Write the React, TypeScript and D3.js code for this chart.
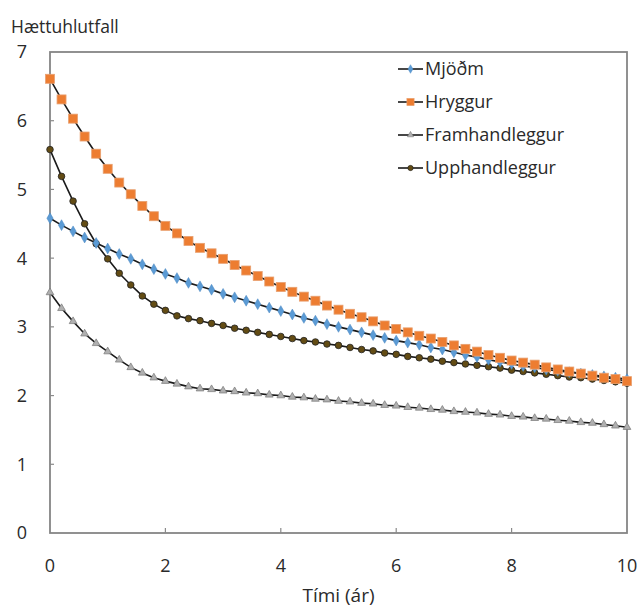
import React, { useRef, useEffect } from "react";
import * as d3 from "d3";

// time in years, one point every 0.2
const years = d3.range(0, 51).map((i) => +(i * 0.2).toFixed(1));

const mjodm = [
  4.58, 4.48, 4.39, 4.3, 4.22, 4.14, 4.06, 3.99, 3.91, 3.84, 3.77, 3.71, 3.64,
  3.59, 3.54, 3.48, 3.43, 3.38, 3.33, 3.28, 3.23, 3.18, 3.13, 3.09, 3.04, 3.0,
  2.96, 2.92, 2.88, 2.84, 2.8, 2.77, 2.74, 2.7, 2.67, 2.63, 2.59, 2.56, 2.52,
  2.49, 2.46, 2.43, 2.41, 2.38, 2.36, 2.34, 2.32, 2.3, 2.28, 2.26, 2.24,
];
const hryggur = [
  6.61, 6.31, 6.03, 5.77, 5.52, 5.3, 5.1, 4.93, 4.76, 4.61, 4.47, 4.36, 4.25,
  4.15, 4.07, 3.99, 3.9, 3.82, 3.74, 3.66, 3.58, 3.51, 3.44, 3.38, 3.31, 3.25,
  3.19, 3.14, 3.08, 3.02, 2.97, 2.92, 2.87, 2.83, 2.78, 2.73, 2.68, 2.64, 2.59,
  2.55, 2.51, 2.48, 2.45, 2.41, 2.38, 2.35, 2.32, 2.29, 2.26, 2.24, 2.21,
];
const framhandleggur = [
  3.5, 3.27, 3.08, 2.9, 2.76, 2.64, 2.52, 2.41, 2.33, 2.26, 2.21, 2.17, 2.13,
  2.1, 2.09, 2.07, 2.06, 2.04, 2.03, 2.01, 2.0, 1.98, 1.97, 1.95, 1.94, 1.92,
  1.91, 1.89, 1.88, 1.86, 1.85, 1.83, 1.82, 1.8, 1.79, 1.77, 1.76, 1.75, 1.73,
  1.72, 1.7, 1.69, 1.67, 1.66, 1.64, 1.63, 1.61, 1.6, 1.58, 1.56, 1.54,
];
const upphandleggur = [
  5.58, 5.19, 4.83, 4.5, 4.21, 3.99, 3.78, 3.61, 3.45, 3.33, 3.24, 3.16, 3.12,
  3.09, 3.05, 3.02, 2.98, 2.95, 2.92, 2.89, 2.86, 2.83, 2.8, 2.78, 2.75, 2.73,
  2.7, 2.67, 2.65, 2.62, 2.6, 2.57, 2.55, 2.53, 2.5, 2.48, 2.46, 2.44, 2.42,
  2.4, 2.37, 2.35, 2.33, 2.31, 2.29, 2.27, 2.26, 2.24, 2.22, 2.2, 2.18,
];

const xTicks = [0, 2, 4, 6, 8, 10];
const yTicks = [0, 1, 2, 3, 4, 5, 6, 7];

const seriesNames = ["Mjöðm", "Hryggur", "Framhandleggur", "Upphandleggur"];
const seriesValues = [mjodm, hryggur, framhandleggur, upphandleggur];

const FONT = "'Open Sans', 'Noto Sans', sans-serif";
const TEXT = "#2a2a2a";

export default function App() {
  const ref = useRef<SVGSVGElement>(null);

  useEffect(() => {
    if (!ref.current) return;
    const svg = d3.select(ref.current);
    svg.selectAll("*").remove();

    const width = 641;
    const height = 609;
    const margin = { top: 52, right: 14, bottom: 76, left: 50 };
    const innerW = width - margin.left - margin.right;
    const innerH = height - margin.top - margin.bottom;

    const x = d3.scaleLinear().domain([0, 10]).range([0, innerW]);
    const y = d3.scaleLinear().domain([0, 7]).range([innerH, 0]);

    svg.attr("width", width).attr("height", height);
    svg.append("rect").attr("width", width).attr("height", height).attr("fill", "#fff");

    const g = svg.append("g").attr("transform", `translate(${margin.left},${margin.top})`);

    // frame
    g.append("rect")
      .attr("x", 0)
      .attr("y", 0)
      .attr("width", innerW)
      .attr("height", innerH)
      .attr("fill", "none")
      .attr("stroke", "#858585")
      .attr("stroke-width", 1.8);

    // inward ticks
    g.selectAll(".ytick")
      .data(yTicks.slice(1, -1))
      .enter()
      .append("line")
      .attr("x1", 0)
      .attr("x2", 4)
      .attr("y1", (d) => y(d))
      .attr("y2", (d) => y(d))
      .attr("stroke", "#8a8a8a")
      .attr("stroke-width", 1.2);
    g.selectAll(".xtick")
      .data(xTicks.slice(1, -1))
      .enter()
      .append("line")
      .attr("x1", (d) => x(d))
      .attr("x2", (d) => x(d))
      .attr("y1", innerH)
      .attr("y2", innerH - 5)
      .attr("stroke", "#8a8a8a")
      .attr("stroke-width", 1.2);

    // tick labels
    g.selectAll(".ylab")
      .data(yTicks)
      .enter()
      .append("text")
      .attr("x", -23)
      .attr("y", (d) => y(d))
      .attr("dy", "0.36em")
      .attr("text-anchor", "end")
      .attr("font-family", FONT)
      .attr("font-size", 18)
      .attr("fill", TEXT)
      .text((d) => d);
    g.selectAll(".xlab")
      .data(xTicks)
      .enter()
      .append("text")
      .attr("x", (d) => x(d))
      .attr("y", innerH + 39)
      .attr("text-anchor", "middle")
      .attr("font-family", FONT)
      .attr("font-size", 18)
      .attr("fill", TEXT)
      .text((d) => d);

    // axis titles
    svg.append("text")
      .attr("x", 11)
      .attr("y", 33)
      .attr("font-family", FONT)
      .attr("font-size", 17.5)
      .attr("fill", TEXT)
      .text("Hættuhlutfall");
    svg.append("text")
      .attr("x", margin.left + innerW / 2)
      .attr("y", 602)
      .attr("text-anchor", "middle")
      .attr("font-family", FONT)
      .attr("font-size", 19)
      .attr("fill", TEXT)
      .text("Tími (ár)");

    const line = d3
      .line<number>()
      .x((_, i) => x(years[i]))
      .y((d) => y(d));

    const drawMarker = (sel: any, k: number) => {
      if (k === 0) {
        sel.append("path")
          .attr("d", d3.symbol(d3.symbolDiamond, 34)())
          .attr("fill", "#5b9bd5")
          .attr("stroke", "#4a86c0")
          .attr("stroke-width", 0.5);
      } else if (k === 1) {
        sel.append("rect")
          .attr("x", -4.5)
          .attr("y", -4.5)
          .attr("width", 9)
          .attr("height", 9)
          .attr("fill", "#ed7d31")
          .attr("stroke", "#e8a070")
          .attr("stroke-width", 0.8);
      } else if (k === 2) {
        sel.append("path")
          .attr("d", d3.symbol(d3.symbolTriangle, 26)())
          .attr("fill", "#b0b0b0")
          .attr("stroke", "#777")
          .attr("stroke-width", 0.7);
      } else {
        sel.append("circle")
          .attr("r", 3.3)
          .attr("fill", "#634c14")
          .attr("stroke", "#222")
          .attr("stroke-width", 0.8);
      }
    };

    const drawOrder = [2, 3, 0, 1];
    drawOrder.forEach((k) => {
      const vals = seriesValues[k];
      g.append("path")
        .datum(vals)
        .attr("d", line)
        .attr("fill", "none")
        .attr("stroke", "#1a1a1a")
        .attr("stroke-width", 1.6);
      const pts = g
        .selectAll(`.pt${k}`)
        .data(vals)
        .enter()
        .append("g")
        .attr("transform", (d, i) => `translate(${x(years[i])},${y(d)})`);
      drawMarker(pts, k);
    });

    // legend
    const legend = svg.append("g").attr("transform", "translate(398,69)");
    seriesNames.forEach((name, k) => {
      const row = legend.append("g").attr("transform", `translate(0,${k * 33})`);
      row.append("line")
        .attr("x1", 0)
        .attr("x2", 25)
        .attr("stroke", "#1a1a1a")
        .attr("stroke-width", 1.6);
      const m = row.append("g").attr("transform", "translate(12.5,0) scale(0.8)");
      drawMarker(m, k);
      row.append("text")
        .attr("x", 27)
        .attr("dy", "0.36em")
        .attr("font-family", FONT)
        .attr("font-size", 18)
        .attr("fill", TEXT)
        .text(name);
    });
  }, []);

  return (
    <div style={{ position: "absolute", left: 0, top: 0 }}>
      <svg ref={ref} style={{ display: "block" }}></svg>
    </div>
  );
}
